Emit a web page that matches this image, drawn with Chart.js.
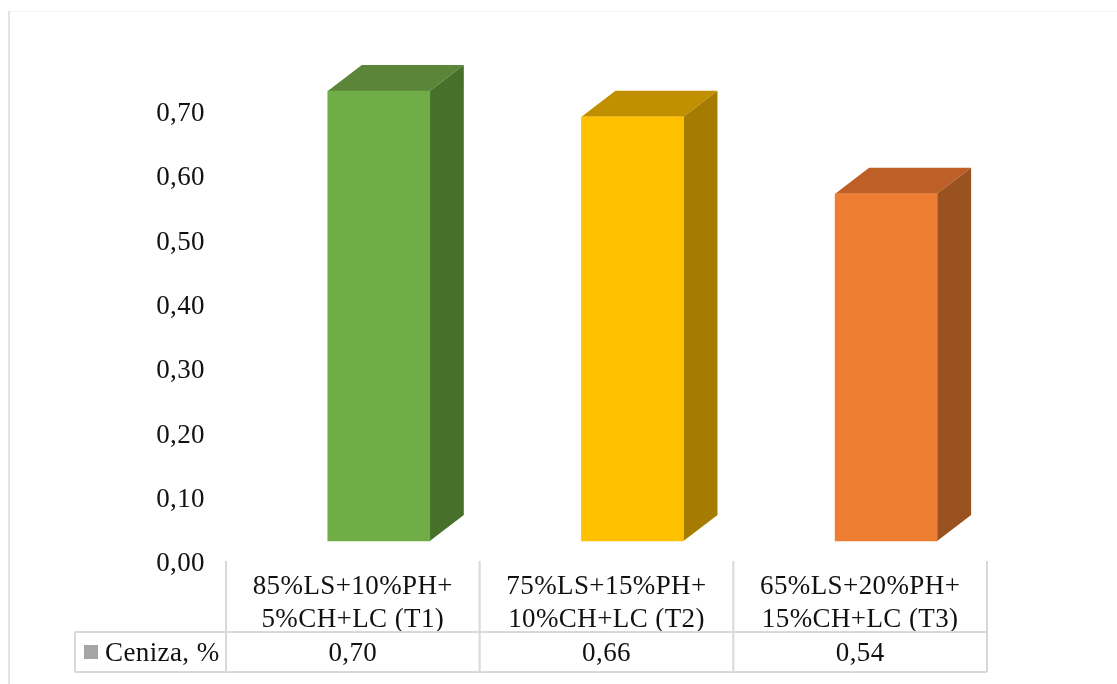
<!DOCTYPE html>
<html>
<head>
<meta charset="utf-8">
<title>Ceniza</title>
<script src="https://cdn.jsdelivr.net/npm/chart.js@4"></script>
<style>
  html, body { margin: 0; padding: 0; background: #fff; }
  #wrap { width: 1117px; height: 684px; }
</style>
</head>
<body>
<div id="wrap"><canvas id="cenizaChart" width="1117" height="684"></canvas></div>
<script>
const categories = [
  ["85%LS+10%PH+", "5%CH+LC (T1)"],
  ["75%LS+15%PH+", "10%CH+LC (T2)"],
  ["65%LS+20%PH+", "15%CH+LC (T3)"]
];
const seriesName = "Ceniza, %";
const cenizaValues = [0.70, 0.66, 0.54];
const yTicks = [0, 0.1, 0.2, 0.3, 0.4, 0.5, 0.6, 0.7];
const barColors = ["#70AD47", "#FFC000", "#ED7D31"];
const topColors = ["#5B8538", "#C09000", "#BD5F27"];
const sideColors = ["#47702B", "#A67C00", "#9A5221"];

const FONT = '"Liberation Serif", serif';
const GRID = "#D9D9D9";
const TEXT = "#111111";
// 3D look: front face sits up and right of the axis, as in the Excel chart
const DEPTH_X = 34, DEPTH_Y = 26;
const SHIFT_X = 26 / 254, SHIFT_Y = 23 * 0.7 / 450;

const comma = v => v.toFixed(2).replace(".", ",");

const look3d = {
  id: "look3d",
  beforeDraw(chart) {
    chart.ctx.letterSpacing = "0.4px";
  },
  beforeDatasetsDraw(chart) {
    const ctx = chart.ctx;
    chart.getDatasetMeta(0).data.forEach((bar, i) => {
      const p = bar.getProps(["x", "y", "base", "width"], true);
      const l = p.x - p.width / 2, r = p.x + p.width / 2;
      ctx.fillStyle = topColors[i];
      ctx.beginPath();
      ctx.moveTo(l, p.y);
      ctx.lineTo(l + DEPTH_X, p.y - DEPTH_Y);
      ctx.lineTo(r + DEPTH_X, p.y - DEPTH_Y);
      ctx.lineTo(r, p.y);
      ctx.closePath();
      ctx.fill();
      ctx.fillStyle = sideColors[i];
      ctx.beginPath();
      ctx.moveTo(r, p.y);
      ctx.lineTo(r + DEPTH_X, p.y - DEPTH_Y);
      ctx.lineTo(r + DEPTH_X, p.base - DEPTH_Y);
      ctx.lineTo(r, p.base);
      ctx.closePath();
      ctx.fill();
    });
  },
  afterDraw(chart) {
    const ctx = chart.ctx;
    const xs = chart.scales.x;
    const left = chart.chartArea.left, right = chart.chartArea.right;
    const w = (right - left) / categories.length;
    const tableTop = 561, rowTop = 632, rowBottom = 672;
    ctx.save();
    ctx.strokeStyle = GRID;
    ctx.lineWidth = 2;
    ctx.beginPath();
    for (let i = 0; i <= categories.length; i++) {
      ctx.moveTo(left + i * w, tableTop);
      ctx.lineTo(left + i * w, rowBottom);
    }
    ctx.moveTo(75, rowTop); ctx.lineTo(right, rowTop);
    ctx.moveTo(75, rowBottom); ctx.lineTo(right, rowBottom);
    ctx.moveTo(75, rowTop); ctx.lineTo(75, rowBottom);
    ctx.stroke();
    // page edge lines at the left and top of the picture
    ctx.strokeStyle = "#E3E3E3";
    ctx.beginPath();
    ctx.moveTo(9, 11); ctx.lineTo(9, 684);
    ctx.stroke();
    ctx.strokeStyle = "#F6F6F6";
    ctx.lineWidth = 1;
    ctx.beginPath();
    ctx.moveTo(10, 11.5); ctx.lineTo(1117, 11.5);
    ctx.stroke();

    ctx.fillStyle = "#A5A5A5";
    ctx.fillRect(84, 645, 14, 14);
    ctx.fillStyle = TEXT;
    ctx.font = "27px " + FONT;
    ctx.textBaseline = "middle";
    ctx.textAlign = "left";
    ctx.fillText(seriesName, 105, 654);
    ctx.textAlign = "center";
    cenizaValues.forEach((v, i) => {
      ctx.fillText(comma(v), xs.getPixelForTick(i), 654);
    });
    ctx.restore();
  }
};

new Chart(document.getElementById("cenizaChart").getContext("2d"), {
  type: "bar",
  data: {
    labels: categories,
    datasets: [{
      label: seriesName,
      data: cenizaValues.map((v, i) => ({ x: i, y: v })),
      backgroundColor: barColors,
      borderWidth: 0,
      barThickness: 102,
      xAxisID: "xBars",
      yAxisID: "yBars",
      clip: false
    }]
  },
  options: {
    responsive: false,
    animation: false,
    layout: { padding: { top: 114, right: 130, bottom: 0, left: 0 } },
    plugins: { legend: { display: false }, tooltip: { enabled: false } },
    scales: {
      x: {
        type: "category",
        labels: categories,
        position: "bottom",
        grid: { display: false },
        border: { display: false },
        afterFit(scale) { scale.height = 120; },
        ticks: {
          color: TEXT,
          maxRotation: 0,
          autoSkip: false,
          padding: -2,
          font: { family: FONT, size: 27, lineHeight: 1.22 }
        }
      },
      y: {
        position: "left",
        min: 0,
        max: 0.7,
        grid: { display: false },
        border: { display: false },
        afterBuildTicks(scale) { scale.ticks = yTicks.map(v => ({ value: v })); },
        afterFit(scale) { scale.width = 226; },
        ticks: {
          color: TEXT,
          padding: 13,
          callback: v => comma(v),
          font: { family: FONT, size: 27 }
        }
      },
      // hidden axes that carry the bars, shifted from the visible labels
      xBars: {
        type: "linear",
        display: false,
        position: "bottom",
        offset: false,
        min: -0.5 - SHIFT_X,
        max: 2.5 - SHIFT_X
      },
      yBars: {
        display: false,
        position: "left",
        min: -SHIFT_Y,
        max: 0.7 - SHIFT_Y
      }
    }
  },
  plugins: [look3d]
});
</script>
</body>
</html>
